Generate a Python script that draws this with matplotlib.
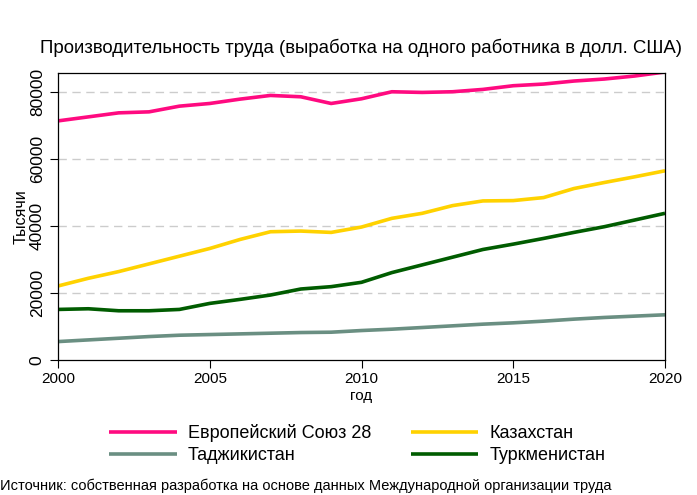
import numpy as np
import matplotlib.pyplot as plt

years = list(range(2000, 2021))

eu28 = [71400, 72600, 73800, 74100, 75800, 76600, 77900, 79000, 78600, 76600,
        78000, 80100, 79900, 80100, 80800, 81900, 82400, 83300, 83900, 84800, 86000]
kazakhstan = [22100, 24400, 26400, 28700, 31000, 33300, 36000, 38300, 38500, 38100,
              39700, 42300, 43800, 46100, 47500, 47600, 48500, 51200, 53000, 54700, 56500]
tajikistan = [5500, 6000, 6500, 7000, 7400, 7600, 7800, 8000, 8200, 8300,
              8800, 9200, 9700, 10200, 10700, 11100, 11600, 12200, 12700, 13100, 13500]
turkmenistan = [15100, 15300, 14700, 14700, 15100, 16900, 18100, 19400, 21200, 21900,
                23200, 26100, 28400, 30700, 33000, 34600, 36300, 38100, 39800, 41800, 43800]

series = [
    ("Европейский Союз 28", eu28, "#ff0a80"),
    ("Казахстан", kazakhstan, "#ffd200"),
    ("Таджикистан", tajikistan, "#6a8f82"),
    ("Туркменистан", turkmenistan, "#005c00"),
]

plt.rcParams['font.family'] = ['Liberation Sans', 'DejaVu Sans']

fig = plt.figure(figsize=(6.97, 4.95), dpi=100)
ax = fig.add_axes([58/697, 1 - 360/495, (665-58)/697, (360-73)/495])

lines = {}
for name, vals, col in series:
    lines[name], = ax.plot(years, vals, color=col, lw=2.6, label=name, solid_capstyle='butt')

ax.set_xlim(2000, 2020)
ax.set_ylim(0, 85700)
ax.set_xticks([2000, 2005, 2010, 2015, 2020])
ax.set_yticks([0, 20000, 40000, 60000, 80000])
ax.set_yticklabels(["0", "20000", "40000", "60000", "80000"], rotation=90, va='center')
ax.tick_params(axis='x', labelsize=11, length=5.5, width=0.8, pad=3)
ax.tick_params(axis='y', labelsize=12.5, length=5.5, width=0.8, pad=4)
for y in [20000, 40000, 60000, 80000]:
    ax.axhline(y, color='#cccccc', lw=1, ls=(0, (6, 4)), zorder=0)
for s in ax.spines.values():
    s.set_linewidth(0.9)

ax.set_xlabel("год", fontsize=11, labelpad=2)
ax.set_ylabel("Тысячи", fontsize=11.5, labelpad=1)
fig.text(361/697, 1 - 48/495, "Производительность труда (выработка на одного работника в долл. США)",
         ha='center', va='center', fontsize=13.4)

# row-major order: EU, Kaz / Taj, Turk
order = ["Европейский Союз 28", "Таджикистан", "Казахстан", "Туркменистан"]
fig.legend([lines[n] for n in order], order, loc='upper left',
           bbox_to_anchor=(109/697, 1 - 424/495), ncol=2, frameon=False,
           fontsize=13, handlelength=3.75, handletextpad=0.6, columnspacing=2.2,
           labelspacing=0.3, borderpad=0, borderaxespad=0)

fig.text(0, 1 - 486/495, "Источник: собственная разработка на основе данных Международной организации труда",
         ha='left', va='center', fontsize=10.5)

fig.savefig("out.png", dpi=100)
